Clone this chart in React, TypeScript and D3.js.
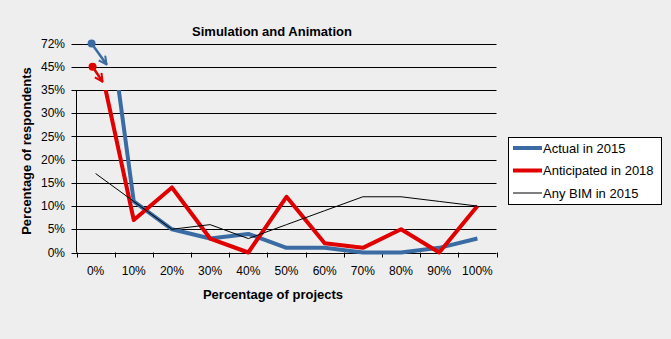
import React from "react";
import * as d3 from "d3";

const categories = ["0%", "10%", "20%", "30%", "40%", "50%", "60%", "70%", "80%", "90%", "100%"];
const actual2015 = [72, 11, 5, 3, 4, 1, 1, 0, 0, 1, 3];
const anticipated2018 = [45, 7, 14, 3, 0, 12, 2, 1, 5, 0, 10];
const anyBim2015 = [17, 11, 5, 6, 3, 6, 9, 12, 12, 11, 10];
const yTickValues = [0, 5, 10, 15, 20, 25, 30, 35];
const brokenTickLabels = ["45%", "72%"];
const seriesNames = ["Actual in 2015", "Anticipated in 2018", "Any BIM in 2015"];

const W = 671, H = 339;
const FONT = "Arial, 'Liberation Sans', sans-serif";
const BLUE = "#3a6ca3";
const RED = "#e00000";

export default function App() {
  const left = 76.5, right = 496.5, bottom = 252.5;
  const x = d3.scaleBand().domain(categories).range([left, right]);
  const cx = (c: string) => (x(c) as number) + x.bandwidth() / 2;
  // tick index scale (uniform spacing including broken-axis labels)
  const idx = d3.scaleLinear().domain([0, 9]).range([bottom, 43.5]);
  const y = (v: number) => idx(v / 5);
  const top = y(35);

  const line = d3
    .line<number>()
    .x((_, i) => cx(categories[i]))
    .y((d) => y(d));

  const series = [
    { name: seriesNames[0], data: actual2015, color: BLUE, w: 4 },
    { name: seriesNames[1], data: anticipated2018, color: RED, w: 4 },
    { name: seriesNames[2], data: anyBim2015, color: "#000", w: 1 },
  ];

  const brokenY = brokenTickLabels.map((_, i) => idx(8 + i));
  const blueDot = { x: cx(categories[0]) - 4, y: idx(9) };
  const redDot = { x: cx(categories[0]) - 3, y: idx(8) };

  return (
    <svg width={W} height={H} style={{ position: "absolute", left: 0, top: 0, background: "#eeeeee" }}>
      <defs>
        <clipPath id="plotclip">
          <rect x={left} y={top} width={right - left} height={bottom - top + 5} />
        </clipPath>
        <marker id="arrBlue" viewBox="0 0 10 10" refX="9" refY="5" markerWidth="4" markerHeight="4" orient="auto" markerUnits="strokeWidth">
          <path d="M1,1 L9,5 L1,9" fill="none" stroke={BLUE} strokeWidth="2" />
        </marker>
        <marker id="arrRed" viewBox="0 0 10 10" refX="9" refY="5" markerWidth="4" markerHeight="4" orient="auto" markerUnits="strokeWidth">
          <path d="M1,1 L9,5 L1,9" fill="none" stroke={RED} strokeWidth="2" />
        </marker>
      </defs>
      <rect x={0} y={0} width={W} height={H} fill="#eeeeee" />

      {/* gridlines */}
      {yTickValues.map((v) => (
        <line key={v} x1={left - 5} x2={right} y1={Math.round(y(v)) + 0.5} y2={Math.round(y(v)) + 0.5} stroke="#000" strokeWidth={1} />
      ))}
      {brokenY.map((yy, i) => (
        <line key={"b" + i} x1={left - 5} x2={right} y1={Math.round(yy) + 0.5} y2={Math.round(yy) + 0.5} stroke="#000" strokeWidth={1} />
      ))}
      {/* y axis */}
      <line x1={left} x2={left} y1={Math.round(top) + 0.5} y2={bottom} stroke="#000" />
      {/* x axis ticks */}
      {d3.range(categories.length + 1).map((i) => {
        const xx = Math.round(left + i * x.step()) + 0.5;
        return <line key={i} x1={xx} x2={xx} y1={bottom} y2={bottom + 5} stroke="#000" />;
      })}

      {/* y tick labels */}
      {yTickValues.map((v) => (
        <text key={v} x={65} y={y(v)} dy="0.35em" textAnchor="end" fontFamily={FONT} fontSize={12} fill="#000">
          {v}%
        </text>
      ))}
      {brokenTickLabels.map((t, i) => (
        <text key={t} x={65} y={brokenY[i]} dy="0.35em" textAnchor="end" fontFamily={FONT} fontSize={12} fill="#000">
          {t}
        </text>
      ))}
      {/* x tick labels */}
      {categories.map((c) => (
        <text key={c} x={cx(c)} y={275} textAnchor="middle" fontFamily={FONT} fontSize={12} fill="#000">
          {c}
        </text>
      ))}

      {/* lines */}
      <g clipPath="url(#plotclip)">
        {series.map((s) => (
          <path key={s.name} d={line(s.data) as string} fill="none" stroke={s.color} strokeWidth={s.w} strokeLinejoin="round" />
        ))}
      </g>

      {/* broken-axis annotations */}
      <line x1={blueDot.x} y1={blueDot.y} x2={blueDot.x + 15} y2={blueDot.y + 21} stroke={BLUE} strokeWidth={2.5} markerEnd="url(#arrBlue)" />
      <circle cx={blueDot.x} cy={blueDot.y} r={4} fill={BLUE} />
      <line x1={redDot.x} y1={redDot.y} x2={redDot.x + 10} y2={redDot.y + 15} stroke={RED} strokeWidth={2.5} markerEnd="url(#arrRed)" />
      <circle cx={redDot.x} cy={redDot.y} r={4} fill={RED} />

      {/* title */}
      <text x={272} y={36} textAnchor="middle" fontFamily={FONT} fontSize={13} fontWeight="bold" fill="#000">
        Simulation and Animation
      </text>
      {/* axis titles */}
      <text x={273} y={299} textAnchor="middle" fontFamily={FONT} fontSize={13} fontWeight="bold" fill="#000">
        Percentage of projects
      </text>
      <text transform="translate(31,151) rotate(-90)" textAnchor="middle" fontFamily={FONT} fontSize={13} fontWeight="bold" fill="#000">
        Percentage of respondents
      </text>

      {/* legend */}
      <rect x={508.5} y={137.5} width={153} height={67} fill="#fff" stroke="#000" />
      {series.map((s, i) => {
        const ly = 148 + i * 22.5;
        return (
          <g key={s.name}>
            <line x1={513} x2={542} y1={ly} y2={ly} stroke={s.color} strokeWidth={s.w} />
            <text x={543} y={ly} dy="0.35em" fontFamily={FONT} fontSize={13} fill="#000">
              {s.name}
            </text>
          </g>
        );
      })}
    </svg>
  );
}
